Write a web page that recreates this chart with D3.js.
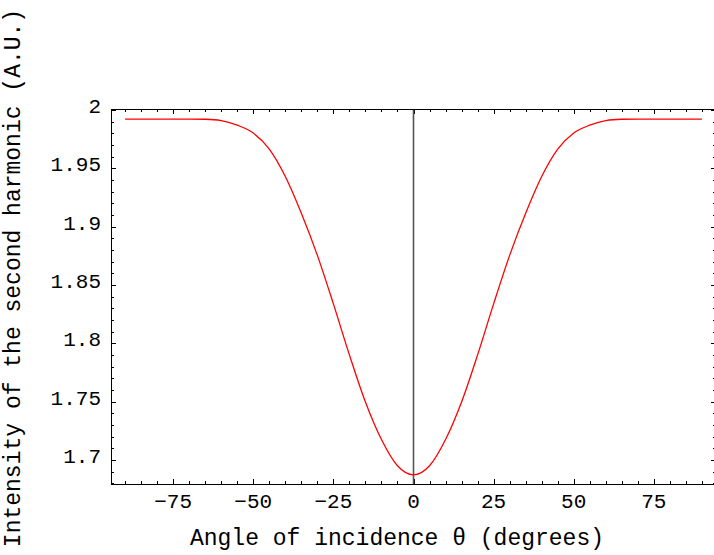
<!DOCTYPE html>
<html>
<head>
<meta charset="utf-8">
<script src="https://cdn.jsdelivr.net/npm/d3@7"></script>
<style>
  body { margin: 0; background: #fff; }
  svg { display: block; }
  text { font-family: "Liberation Mono", "Courier New", monospace; fill: #000; }
</style>
</head>
<body>
<div class="draw"></div>
<script>
// angle of incidence (degrees) and SH intensity
var angles = [-90, -85, -80, -75, -70, -65, -60, -55, -50, -45, -40, -35, -30, -25, -20, -15, -10, -5,
  0, 5, 10, 15, 20, 25, 30, 35, 40, 45, 50, 55, 60, 65, 70, 75, 80, 85, 90];
var intensity = [1.9923, 1.9923, 1.9923, 1.9923, 1.9923, 1.9921, 1.9910, 1.9870, 1.9803, 1.9665, 1.9430, 1.9115, 1.8754, 1.8338, 1.7901, 1.7497, 1.7175, 1.6950,
  1.6872, 1.6950, 1.7175, 1.7497, 1.7901, 1.8338, 1.8754, 1.9115, 1.9430, 1.9665, 1.9803, 1.9870, 1.9910, 1.9921, 1.9923, 1.9923, 1.9923, 1.9923, 1.9923];
var xTicks = [-75, -50, -25, 0, 25, 50, 75];
var yTicks = [1.7, 1.75, 1.8, 1.85, 1.9, 1.95, 2];
var xLabel = 'Angle of incidence \u03b8 (degrees)';
var yLabel = 'Intensity of the second harmonic (A.U.)';

var size = { w: 714, h: 555 };
var frame = { left: 111, right: 716, top: 109, bottom: 484 };

var x = d3.scaleLinear().domain([-94.4, 94.4]).range([frame.left, frame.right]);
var y = d3.scaleLinear().domain([1.6794, 2.0009]).range([frame.bottom, frame.top]);

var root = d3.select('.draw').append('svg')
  .attr('width', size.w)
  .attr('height', size.h);

// minor ticks every 5 degrees / 0.01 units
var xMinor = d3.range(-90, 91, 5).filter(function(v) { return v % 25 !== 0; });
var yMinor = d3.range(168, 201).map(function(v) { return v / 100; })
  .filter(function(v) { return Math.round(v * 100) % 5 !== 0; });

var ticks = root.append('g').attr('stroke', '#000').attr('stroke-width', 1);

function hTicks(vals, len) {
  vals.forEach(function(v) {
    var px = Math.round(x(v)) + 0.5;
    ticks.append('line').attr('x1', px).attr('x2', px)
      .attr('y1', frame.bottom).attr('y2', frame.bottom - len);
    ticks.append('line').attr('x1', px).attr('x2', px)
      .attr('y1', frame.top).attr('y2', frame.top + len);
  });
}
function vTicks(vals, len) {
  vals.forEach(function(v) {
    var py = Math.round(y(v)) + 0.5;
    ticks.append('line').attr('y1', py).attr('y2', py)
      .attr('x1', frame.left).attr('x2', frame.left + len);
    ticks.append('line').attr('y1', py).attr('y2', py)
      .attr('x1', frame.right).attr('x2', frame.right - len);
  });
}
hTicks(xTicks, 5);
hTicks(xMinor, 3);
vTicks(yTicks, 5);
vTicks(yMinor, 3);

// zero line
root.append('line')
  .attr('x1', x(0)).attr('x2', x(0))
  .attr('y1', frame.top).attr('y2', frame.bottom)
  .attr('stroke', '#555').attr('stroke-width', 1.6);

// curve
var line = d3.line()
  .x(function(d, i) { return x(angles[i]); })
  .y(function(d) { return y(d); })
  .curve(d3.curveMonotoneX);

root.append('path')
  .datum(intensity)
  .attr('d', line)
  .attr('fill', 'none')
  .attr('stroke', '#ff0000')
  .attr('stroke-width', 1.3);

// frame
root.append('rect')
  .attr('x', frame.left + 0.5).attr('y', frame.top + 0.5)
  .attr('width', frame.right - frame.left).attr('height', frame.bottom - frame.top)
  .attr('fill', 'none').attr('stroke', '#000').attr('stroke-width', 1);

// tick labels
var fmt = d3.format('');
root.append('g').selectAll('text').data(xTicks).enter().append('text')
  .attr('x', function(d) { return x(d); })
  .attr('y', 508)
  .attr('text-anchor', 'middle')
  .attr('font-size', 21)
  .text(function(d) { return fmt(d); });

root.append('g').selectAll('text').data(yTicks).enter().append('text')
  .attr('x', 101)
  .attr('y', function(d) { return y(d) + 3; })
  .attr('text-anchor', 'end')
  .attr('font-size', 21)
  .text(function(d) { return String(d); });

// axis titles
root.append('text')
  .attr('x', 397)
  .attr('y', 545)
  .attr('text-anchor', 'middle')
  .attr('font-size', 23)
  .text(xLabel);

root.append('text')
  .attr('transform', 'translate(20,' + 278 + ') rotate(-90)')
  .attr('text-anchor', 'middle')
  .attr('font-size', 23)
  .text(yLabel);
</script>
</body>
</html>
